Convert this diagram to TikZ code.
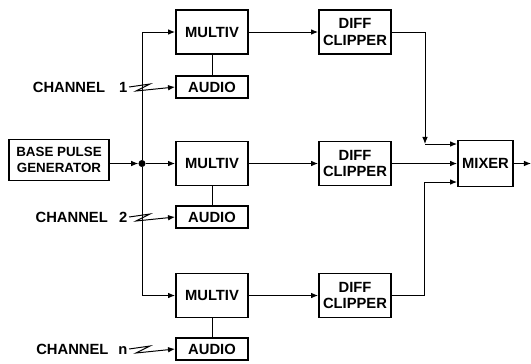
\documentclass[tikz,border=0pt]{standalone}
\usepackage{fontspec}
\setsansfont{Liberation Sans}
\usepackage{tikz}
\usetikzlibrary{arrows.meta,positioning}

\begin{document}
\begin{tikzpicture}[
  x=0.025cm, y=-0.025cm,
  block/.style={draw, line width=1.3pt, inner sep=1pt, align=center,
    font=\fontsize{10.5}{12}\selectfont\sffamily\bfseries,
    minimum width=1.8cm, minimum height=1.1cm},
  audioblock/.style={block, minimum height=0.55cm},
  mixblock/.style={block, minimum width=1.375cm, minimum height=1.15cm},
  genblock/.style={block, minimum width=2.5cm, minimum height=1.025cm,
    font=\fontsize{9.5}{11.5}\selectfont\sffamily\bfseries},
  chanlabel/.style={anchor=east, inner sep=1pt,
    font=\fontsize{10.5}{12}\selectfont\sffamily\bfseries},
  wire/.style={line width=0.7pt},
  arr/.style={wire, -{Latex[length=5pt,width=4pt]}},
  splitdot/.style={circle, fill=black, inner sep=0pt, minimum size=5pt}
]
  \useasboundingbox (0,0) rectangle (531,363);

  % === Generator and split point ===
  \node[genblock] (gen) at (59,160) {BASE PULSE\\GENERATOR};
  \node[splitdot] (split) at (142,163.5) {};

  % === Channel blocks ===
  \node[block] (mv-1) at (212,32) {MULTIV};
  \node[block] (mv-2) at (212,163.5) {MULTIV};
  \node[block] (mv-3) at (212,295.5) {MULTIV};

  \node[audioblock] (au-1) at (212,87) {AUDIO};
  \node[audioblock] (au-2) at (212,217) {AUDIO};
  \node[audioblock] (au-3) at (212,349) {AUDIO};

  \node[block] (dc-1) at (355,32) {DIFF\\CLIPPER};
  \node[block] (dc-2) at (355,163.5) {DIFF\\CLIPPER};
  \node[block] (dc-3) at (355,295.5) {DIFF\\CLIPPER};

  \node[mixblock] (mix) at (485.5,163.5) {MIXER};

  % Channel inputs
  \node[chanlabel] (ch-1) at (129,87) {CHANNEL\hspace{10pt}1};
  \node[chanlabel] (ch-2) at (129,217) {CHANNEL\hspace{8pt}2};
  \node[chanlabel] (ch-3) at (129,349) {CHANNEL\hspace{7pt}n};

  \coordinate (tap-1) at (425,144);
  \coordinate (tap-3) at (424,182);
  \coordinate (out) at (531,163.5);

  % === Connections ===
  \draw[arr] (gen.east |- split) -- (split);
  \draw[arr] (split) |- (mv-1.west);
  \draw[arr] (split) -- (mv-2.west);
  \draw[arr] (split) |- (mv-3.west);

  \draw[wire] (mv-1) -- (au-1); \draw[wire] (mv-2) -- (au-2);
  \draw[wire] (mv-3) -- (au-3);

  \draw[arr] (ch-1.east) -- ++(21,-3) -- ++(-14,7) -- (au-1.west);
  \draw[arr] (ch-2.east) -- ++(21,-3) -- ++(-14,7) -- (au-2.west);
  \draw[arr] (ch-3.east) -- ++(21,-3) -- ++(-14,7) -- (au-3.west);

  \draw[arr] (mv-1.east) -- (dc-1.west);
  \draw[arr] (mv-2.east) -- (dc-2.west);
  \draw[arr] (mv-3.east) -- (dc-3.west);

  % Mixer inputs
  \draw[arr] (dc-1.east) -| (tap-1);
  \draw[arr] (tap-1) -- (mix.west |- tap-1);
  \draw[arr] (dc-2.east) -- (mix.west);
  \draw[wire] (dc-3.east) -| (tap-3);
  \draw[arr] (tap-3) -- (mix.west |- tap-3);

  \draw[arr] (mix.east) -- (out);
\end{tikzpicture}
\end{document}
